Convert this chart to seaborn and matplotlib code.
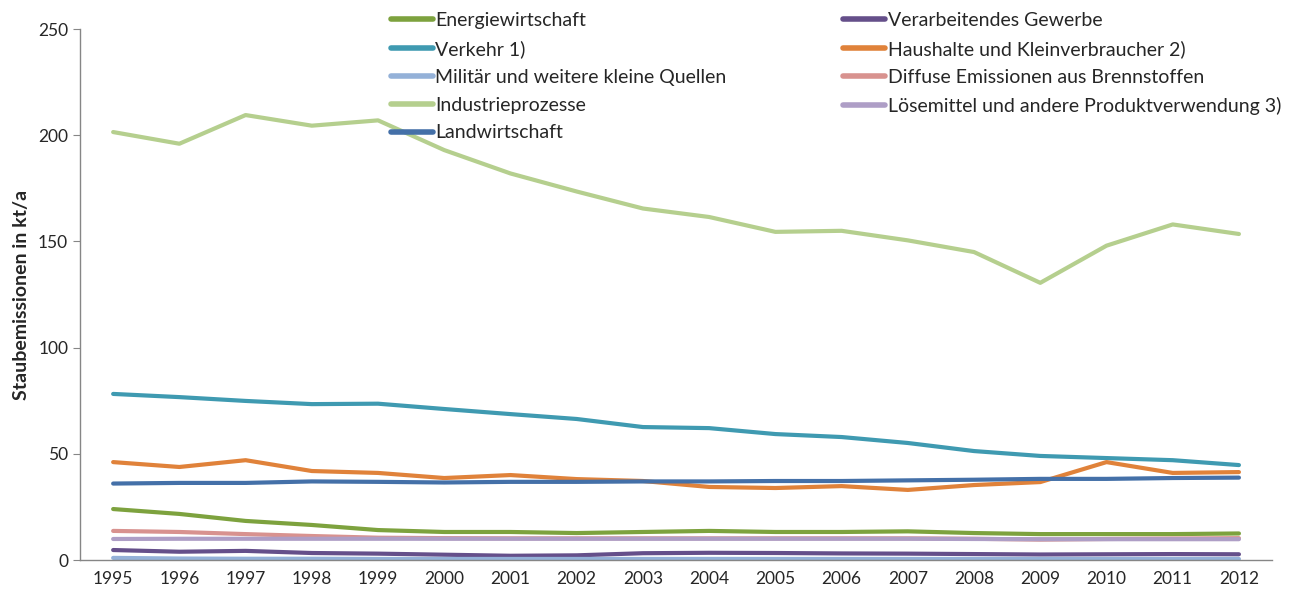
import numpy as np
import pandas as pd
import seaborn as sns
import matplotlib.pyplot as plt
from matplotlib.ticker import FixedLocator

years = list(range(1995, 2013))

energie = [24.0, 21.7, 18.4, 16.5, 14.1, 13.2, 13.2, 12.7, 13.2, 13.7, 13.2, 13.2, 13.5, 12.7, 12.2, 12.2, 12.2, 12.5]
verarbeitend = [4.7, 3.9, 4.3, 3.3, 3.0, 2.5, 2.0, 2.2, 3.2, 3.4, 3.3, 3.1, 3.0, 2.8, 2.6, 2.7, 2.8, 2.7]
verkehr = [78.2, 76.7, 74.9, 73.4, 73.6, 71.1, 68.7, 66.4, 62.6, 62.1, 59.3, 57.9, 55.1, 51.3, 49.0, 48.0, 47.0, 44.7]
haushalte = [46.1, 43.8, 47.0, 41.9, 41.0, 38.6, 40.0, 38.1, 37.2, 34.4, 33.9, 34.8, 33.0, 35.3, 36.7, 46.1, 41.0, 41.4]
militaer = [1.0, 0.7, 0.6, 0.6, 0.5, 0.5, 0.5, 0.5, 0.5, 0.5, 0.5, 0.5, 0.5, 0.5, 0.5, 0.5, 0.5, 0.5]
diffuse = [13.7, 13.2, 12.2, 11.3, 10.5, 10.3, 10.2, 10.2, 10.2, 10.2, 10.2, 10.2, 10.2, 10.0, 9.6, 9.9, 10.1, 10.3]
industrie = [201.5, 196.0, 209.5, 204.5, 207.0, 193.0, 182.0, 173.5, 165.5, 161.5, 154.5, 155.0, 150.5, 145.0, 130.5, 148.0, 158.0, 153.5]
loesemittel = [9.9, 10.0, 10.0, 10.0, 10.0, 10.0, 10.0, 10.0, 10.0, 10.0, 10.0, 10.0, 10.0, 9.9, 9.8, 9.8, 9.8, 9.8]
landwirtschaft = [36.0, 36.3, 36.3, 37.0, 36.8, 36.5, 36.8, 36.8, 37.0, 37.0, 37.2, 37.2, 37.5, 37.8, 38.2, 38.2, 38.6, 38.8]

series = {
    "Energiewirtschaft": energie,
    "Verarbeitendes Gewerbe": verarbeitend,
    "Verkehr 1)": verkehr,
    "Haushalte und Kleinverbraucher 2)": haushalte,
    "Militär und weitere kleine Quellen": militaer,
    "Diffuse Emissionen aus Brennstoffen": diffuse,
    "Industrieprozesse": industrie,
    "Lösemittel und andere Produktverwendung 3)": loesemittel,
    "Landwirtschaft": landwirtschaft,
}
colors = {
    "Energiewirtschaft": "#7DA23E",
    "Verarbeitendes Gewerbe": "#654F8A",
    "Verkehr 1)": "#3F9AB1",
    "Haushalte und Kleinverbraucher 2)": "#E0823A",
    "Militär und weitere kleine Quellen": "#94B1D8",
    "Diffuse Emissionen aus Brennstoffen": "#D8928F",
    "Industrieprozesse": "#B5CF8E",
    "Lösemittel und andere Produktverwendung 3)": "#AE9EC6",
    "Landwirtschaft": "#4470A8",
}

df = pd.DataFrame(
    [(name, y, v) for name, vals in series.items() for y, v in zip(years, vals)],
    columns=["Quelle", "Jahr", "Wert"],
)

sns.set_style("white")
plt.rcParams["font.family"] = ["Lato", "DejaVu Sans"]

fig = plt.figure(figsize=(12.93, 5.95), dpi=100)
ax = fig.add_axes([0.0619, 0.0588, 0.9219, 0.8924])

sns.lineplot(data=df, x="Jahr", y="Wert", hue="Quelle", palette=colors,
             hue_order=list(series.keys()), linewidth=3, ax=ax, legend=False)

ax.set_xlim(1994.5, 2012.5)
ax.set_ylim(0, 250)
ax.set_yticks([0, 50, 100, 150, 200, 250])
ax.set_xticks(years)
ax.xaxis.set_minor_locator(FixedLocator(np.arange(1994.5, 2013, 1)))
ax.tick_params(axis="x", which="major", length=0, labelsize=12.5, pad=8)
ax.tick_params(axis="x", which="minor", length=6, color="#868686", direction="out")
ax.tick_params(axis="y", length=5, color="#868686", direction="out", labelsize=12.5, left=True)
ax.set_xlabel("")
ax.set_ylabel("Staubemissionen in kt/a", fontsize=14, fontweight="bold", labelpad=6)

for s in ["top", "right"]:
    ax.spines[s].set_visible(False)
for s in ["left", "bottom"]:
    ax.spines[s].set_color("#868686")
    ax.spines[s].set_linewidth(1)

# legend in Excel order (row-wise), matplotlib fills columns first
names = list(series.keys())
order = names[0::2] + names[1::2]
handles = [plt.Line2D([], [], color=colors[n], linewidth=4) for n in order]
ax.legend(handles, order, ncol=2, frameon=False, fontsize=14,
          loc="upper left", bbox_to_anchor=(0.246, 1.065),
          handlelength=2.15, handletextpad=0.15, labelspacing=0.56,
          columnspacing=6.0)

fig.savefig("out.png", dpi=100)
